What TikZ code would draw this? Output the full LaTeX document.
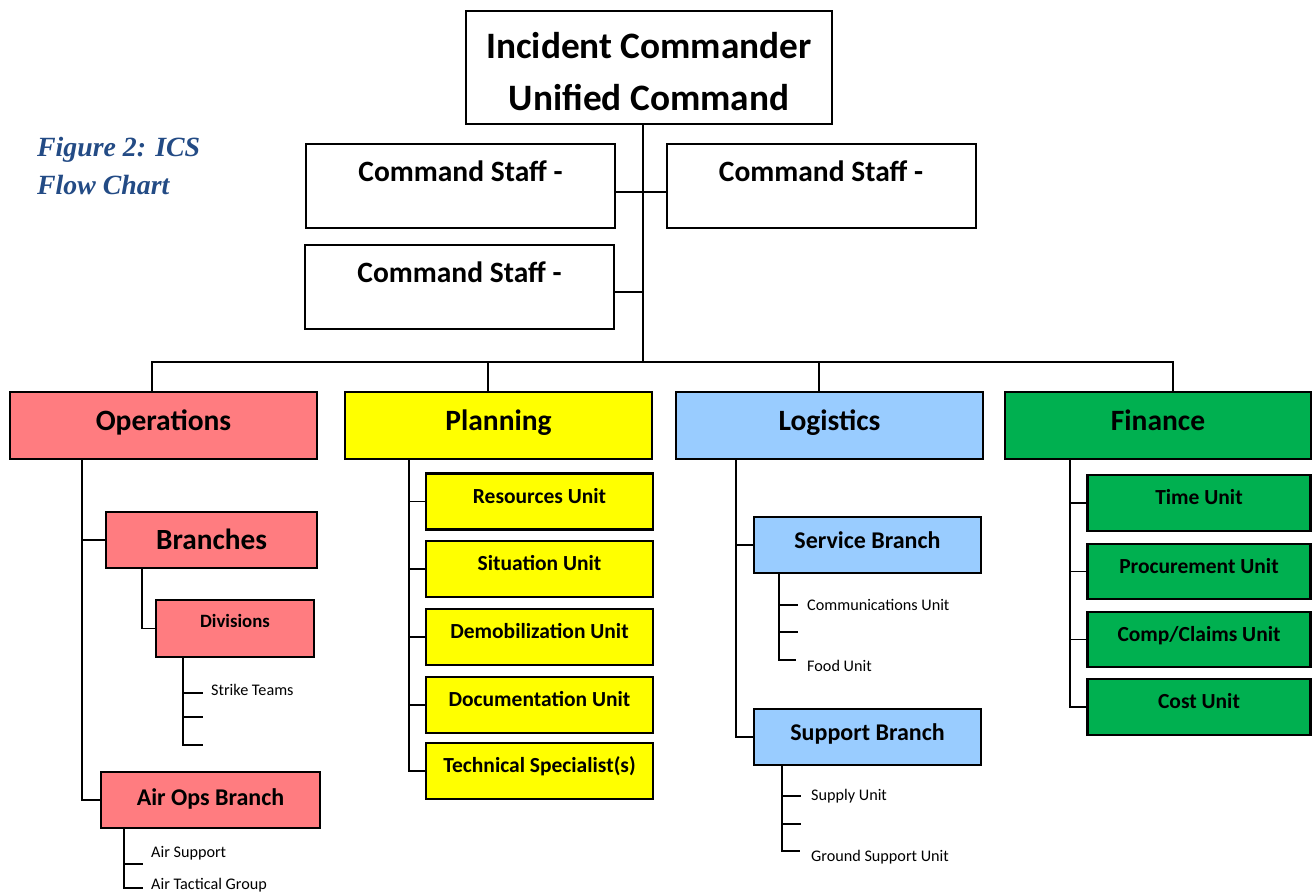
\documentclass[tikz,border=0pt]{standalone}
\usepackage{fontspec}
\setmainfont{Carlito}
\newfontfamily\capfont{Liberation Serif}
\newcommand\fsz[1]{\fontsize{#1}{#1}\selectfont}
\definecolor{opsred}{HTML}{FF7C80}
\definecolor{planyel}{HTML}{FFFF00}
\definecolor{logblue}{HTML}{99CCFF}
\definecolor{fingreen}{HTML}{00B050}
\definecolor{capblue}{HTML}{234B85}
\begin{document}
\begin{tikzpicture}[x=1pt,y=-1pt,
  box/.style={draw=black, line width=2.2pt, inner sep=0pt, font=\bfseries},
  sz/.style 2 args={minimum width=#1, minimum height=#2},
  txt/.style 2 args={text height=#1, text depth=#2},
  conn/.style={line width=1.7pt},
  thinconn/.style={line width=1.3pt},
  small/.style={anchor=west, inner sep=0pt, font=\fsz{16.2}},
  ops/.style={box, fill=opsred},
  plan/.style={box, fill=planyel},
  logi/.style={box, fill=logblue},
  fin/.style={box, fill=fingreen},
  staff/.style={box, fill=white, line width=2pt, sz={309}{84}, txt={19pt}{28pt}, font=\bfseries\fsz{29.5}},
  section/.style={sz={307}{67}, txt={19pt}{9pt}, font=\bfseries\fsz{29.5}},
  unit/.style={sz={225}{56}, txt={13.8pt}{10pt}, font=\bfseries\fsz{21.5}},
  branch/.style={sz={227}{56}, txt={15.5pt}{8pt}, font=\bfseries\fsz{24}}]
\useasboundingbox (0,0) rectangle (1313,892);

% caption
\node[anchor=west, inner sep=0pt, align=left, text=capblue,
  font=\capfont\bfseries\itshape\fontsize{27.8}{38}\selectfont] (cap) at (37,166)
  {Figure 2: ICS\\Flow Chart};

% command level
\node[box, fill=white, line width=2pt, sz={366}{113}, align=center,
  font=\bfseries\fontsize{37.3}{52}\selectfont] (ic) at (649,67.5)
  {\rule{0pt}{34pt}Incident Commander\\Unified Command};
\node[staff] (cs1) at (460.5,186) {Command Staff -};
\node[staff] (cs2) at (821,186) {Command Staff -};
\node[staff] (cs3) at (459.5,287) {Command Staff -};

\coordinate (trunk) at (643,362);
\coordinate (busl) at (152,362);
\coordinate (busr) at (1173,362);

% general staff sections
\node[ops, section] (opsec) at (163.5,425.5) {Operations};
\node[plan, section] (plsec) at (498.5,425.5) {Planning};
\node[logi, section] (lgsec) at (829.5,425.5) {Logistics};
\node[fin, section, minimum width=306] (fnsec) at (1158,425.5) {Finance};

% operations
\node[ops, sz={211}{56}, txt={18.9pt}{0pt}, font=\bfseries\fsz{29.3}] (br) at (211.5,540) {Branches};
\node[ops, sz={158}{57}, txt={12.1pt}{15pt}, font=\bfseries\fsz{18.8}] (dv) at (235,628.5) {Divisions};
\node[ops, sz={219}{56}, txt={15.5pt}{4pt}, font=\bfseries\fsz{24}] (air) at (210.5,800) {Air Ops Branch};
\node[small] (st) at (211,690) {Strike Teams};
\node[small] (as) at (151,853) {Air Support};
\node[small] (atg) at (151,885) {Air Tactical Group};
\coordinate (st1) at (203,693);
\coordinate (st2) at (203,717);
\coordinate (st3) at (203,745);
\coordinate (as1) at (143,864);
\coordinate (as2) at (143,888);

% planning units
\node[plan, unit, minimum width=227] (pu1) at (539.5,501.5) {Resources Unit};
\node[plan, unit, minimum width=227] (pu2) at (539.5,569) {Situation Unit};
\node[plan, unit, minimum width=227] (pu3) at (539.5,637) {Demobilization Unit};
\node[plan, unit, minimum width=227] (pu4) at (539.5,705) {Documentation Unit};
\node[plan, unit, minimum width=227] (pu5) at (539.5,771) {Technical Specialist(s)};

% logistics branches
\node[logi, branch] (svc) at (867.5,545) {Service Branch};
\node[logi, branch] (sup) at (867.5,737) {Support Branch};
\node[small] (com) at (807,605) {Communications Unit};
\node[small] (food) at (807,666) {Food Unit};
\node[small] (sply) at (811,796) {Supply Unit};
\node[small] (gnd) at (811,857) {Ground Support Unit};
\coordinate (sv1) at (798,605);
\coordinate (sv2) at (798,632);
\coordinate (sv3) at (796,660);
\coordinate (sp1) at (801,796);
\coordinate (sp2) at (801,824);
\coordinate (sp3) at (800,851);

% finance units
\node[fin, unit, minimum width=223] (fu1) at (1199,503) {Time Unit};
\node[fin, unit, minimum width=223, minimum height=55] (fu2) at (1199,571.5) {Procurement Unit};
\node[fin, unit, minimum width=223, minimum height=55] (fu3) at (1199,639.5) {Comp/Claims Unit};
\node[fin, unit, minimum width=223] (fu4) at (1199,707) {Cost Unit};

% connectors: command level
\draw[thinconn] (ic.south -| trunk) -- (trunk);
\draw[thinconn] (cs1.east |- 0,192) -- (cs2.west |- 0,192);
\draw[thinconn] (cs3.east |- 0,292) -- (trunk |- 0,292);
\draw[conn] (opsec.north -| busl) -- (busl) -- (busr) -- (fnsec.north -| busr);
\draw[conn] (plsec.north -| 488,0) -- (trunk -| 488,0);
\draw[conn] (lgsec.north -| 819,0) -- (trunk -| 819,0);

% connectors: operations
\draw[conn] (opsec.south -| 82,0) |- (air.west);
\draw[conn] (br.west -| 82,0) -- (br.west);
\draw[conn] (br.south -| 142,0) |- (dv.west);
\draw[conn] (dv.south -| 183,0) |- (st3);
\draw[conn] (st1 -| 183,0) -- (st1);
\draw[conn] (st2 -| 183,0) -- (st2);
\draw[conn] (air.south -| 124,0) |- (as2);
\draw[conn] (as1 -| 124,0) -- (as1);

% connectors: planning
\draw[conn] (plsec.south -| 409,0) |- (pu5.west);
\foreach \u in {pu1,pu2,pu3,pu4} \draw[conn] (\u.west -| 409,0) -- (\u.west);

% connectors: logistics
\draw[conn] (lgsec.south -| 736,0) |- (sup.west);
\draw[conn] (svc.west -| 736,0) -- (svc.west);
\draw[conn] (svc.south -| 779,0) |- (sv3);
\draw[conn] (sv1 -| 779,0) -- (sv1);
\draw[conn] (sv2 -| 779,0) -- (sv2);
\draw[conn] (sup.south -| 782,0) |- (sp3);
\draw[conn] (sp1 -| 782,0) -- (sp1);
\draw[conn] (sp2 -| 782,0) -- (sp2);

% connectors: finance
\draw[conn] (fnsec.south -| 1070,0) |- (fu4.west);
\foreach \u in {fu1,fu2,fu3} \draw[conn] (\u.west -| 1070,0) -- (\u.west);
\end{tikzpicture}
\end{document}
